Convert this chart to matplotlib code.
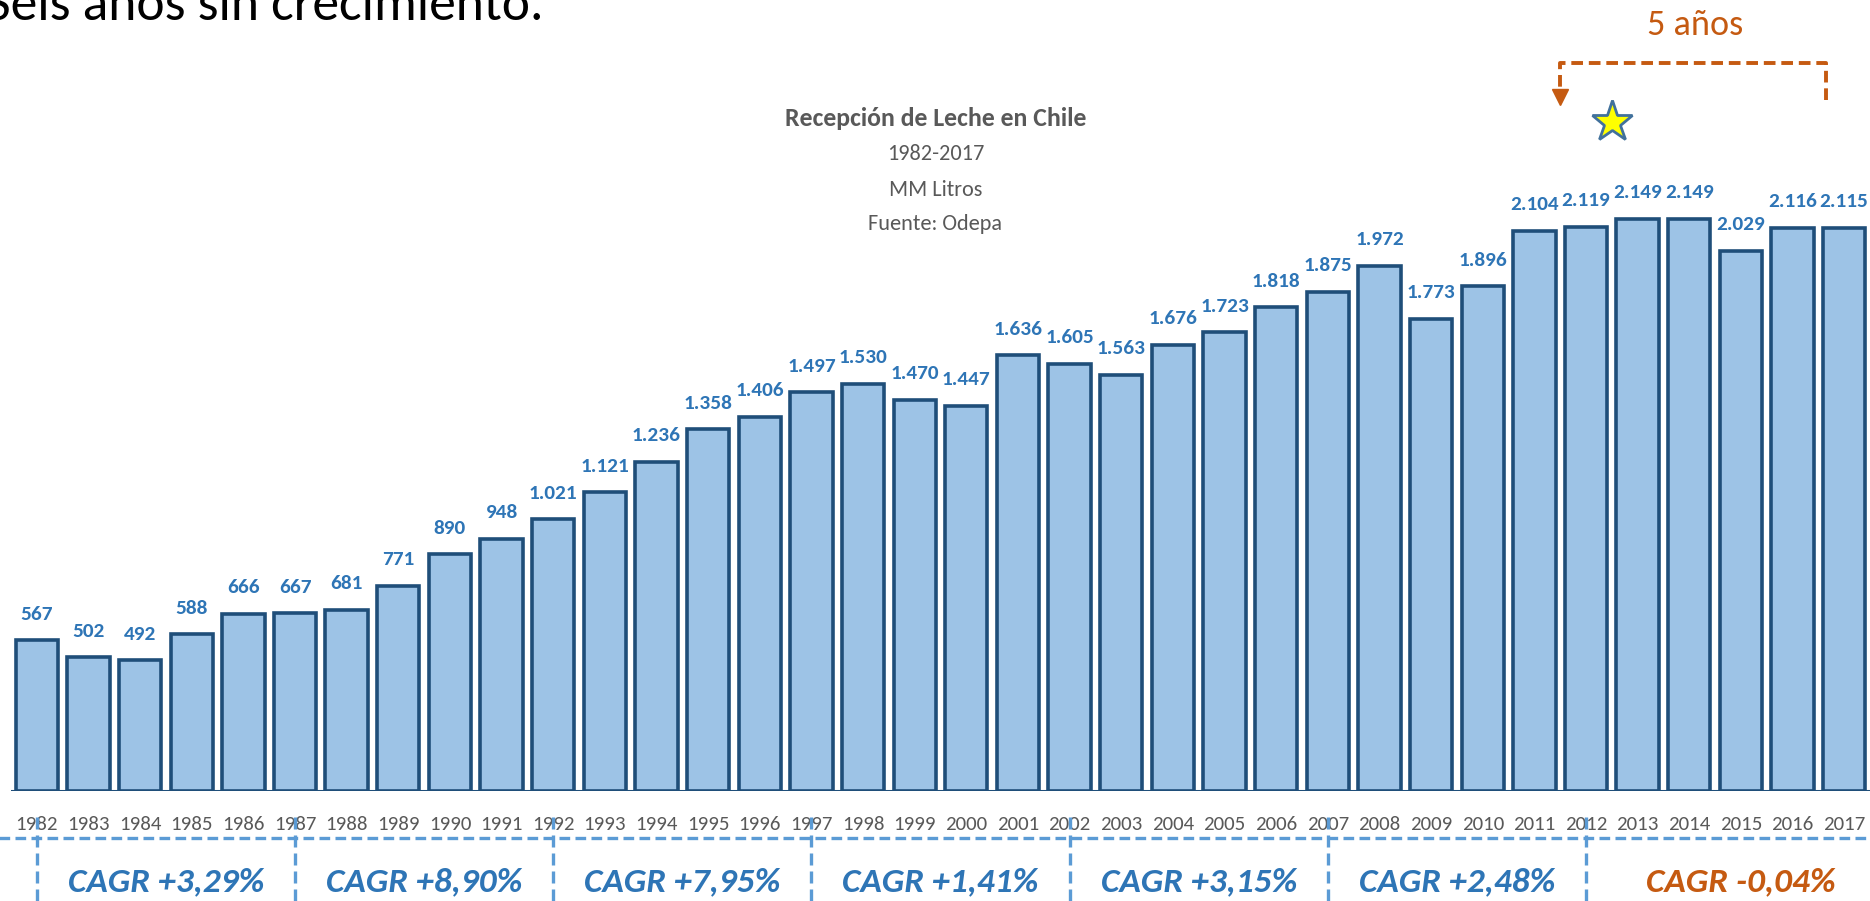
import matplotlib
matplotlib.use("Agg")
import matplotlib.pyplot as plt
from matplotlib import font_manager as fm

# ---------------- data ----------------
years = list(range(1982, 2018))
values = [567, 502, 492, 588, 666, 667, 681, 771, 890, 948,
          1021, 1121, 1236, 1358, 1406, 1497, 1530, 1470, 1447, 1636,
          1605, 1563, 1676, 1723, 1818, 1875, 1972, 1773, 1896, 2104,
          2119, 2149, 2149, 2029, 2116, 2115]
period_starts = [1982, 1987, 1992, 1997, 2002, 2007, 2012]
cagr_labels = ["CAGR +3,29%", "CAGR +8,90%", "CAGR +7,95%", "CAGR +1,41%",
               "CAGR +3,15%", "CAGR +2,48%", "CAGR -0,04%"]
title = "Recepción de Leche en Chile"
subtitles = ["1982-2017", "MM Litros", "Fuente: Odepa"]
headline = "Seis años sin crecimiento."
bracket_label = "5 años"

# ---------------- fonts ----------------
names = {f.name for f in fm.fontManager.ttflist}
def pick(*cands):
    for c in cands:
        if c in names:
            return c
    return "DejaVu Sans"
NARROW = pick("Carlito", "Lato", "Liberation Sans Narrow", "Open Sans", "Roboto")
sc = 1.0 if NARROW in ("Carlito", "Lato", "Liberation Sans Narrow") else 0.9
plt.rcParams["font.family"] = [NARROW, "DejaVu Sans"]

# ---------------- colors ----------------
FILL = "#9DC3E6"
EDGE = "#1F4E79"
LBL = "#2E75B6"
GREY = "#595959"
ORANGE = "#C55A11"
DASH = "#5B9BD5"

W, H = 1870, 901
fig = plt.figure(figsize=(W / 100, H / 100), dpi=100)
PXU = 0.2663          # pixels per unit
YMAX = 2900
base_px = 791
ax = fig.add_axes([11 / W, (H - base_px) / H, (W - 11) / W, YMAX * PXU / H])
ax.set_xlim(-0.5, 35.5)
ax.set_ylim(0, YMAX)
for s in ax.spines.values():
    s.set_visible(False)
ax.set_yticks([])

def yd(py):
    return (base_px - py) / PXU

x = list(range(len(years)))
ax.bar(x, values, width=0.82, color=FILL, edgecolor=EDGE, linewidth=2.6, zorder=3)
ax.axhline(0, color=EDGE, lw=2.2, zorder=4)

for xi, v in zip(x, values):
    lab = f"{v:,}".replace(",", ".")
    ax.annotate(lab, (xi, v), xytext=(0, 12.5), textcoords="offset points",
                ha="center", va="bottom", fontsize=15.3 * sc, fontweight="bold",
                color=LBL, zorder=5)

ax.set_xticks(x)
ax.set_xticklabels([str(y) for y in years], fontsize=15 * sc, color=GREY)
ax.tick_params(axis="x", length=0, pad=18)

# title block
tx = 17.4
ax.text(tx, yd(118), title, ha="center", va="center", fontsize=18.5 * sc,
        fontweight="bold", color=GREY)
for s, py in zip(subtitles, [154, 190, 224]):
    ax.text(tx, yd(py), s, ha="center", va="center", fontsize=16 * sc, color=GREY)

# period dividers & CAGR labels
starts_idx = [years.index(p) for p in period_starts]
ax.plot([-0.75, 35.6], [yd(838)] * 2, ls=(0, (3.2, 1.6)), color=DASH, lw=2.4,
        clip_on=False, zorder=2)
for si in starts_idx:
    ax.plot([si, si], [yd(817), yd(905)], ls=(0, (3.6, 1.8)), color=DASH, lw=2.4,
            clip_on=False, zorder=6)
ends = starts_idx[1:] + [len(years)]
for i, (a, b, lab) in enumerate(zip(starts_idx, ends, cagr_labels)):
    col = ORANGE if i == len(cagr_labels) - 1 else LBL
    ax.text((a + b) / 2, yd(882), lab, ha="center", va="center",
            fontsize=25.5 * sc, fontweight="bold", fontstyle="italic", color=col)

# 5 años bracket
xl, xr = 29.5, 34.65
ax.plot([xr, xr, xl, xl], [yd(100), yd(63), yd(63), yd(92)], ls=(0, (3.0, 1.5)),
        color=ORANGE, lw=2.8, clip_on=False, solid_joinstyle="miter")
ax.plot([xl], [yd(97)], marker="v", ms=11, color=ORANGE, mec=ORANGE, clip_on=False)
ax.text((xl + xr) / 2 + 0.03, yd(25), bracket_label, ha="center", va="center",
        fontsize=26 * sc, color=ORANGE)
ax.plot([30.5], [yd(122)], marker="*", ms=31, mfc="#FFFF00", mec="#41719C",
        mew=2, clip_on=False, zorder=6)

# cut-off headline at the top (as in the source image)
fig.text(-14 / W, 1 - 20 / H, headline, ha="left", va="baseline",
         fontsize=38.5 * sc, color="black")

fig.savefig("out.png", dpi=100)
